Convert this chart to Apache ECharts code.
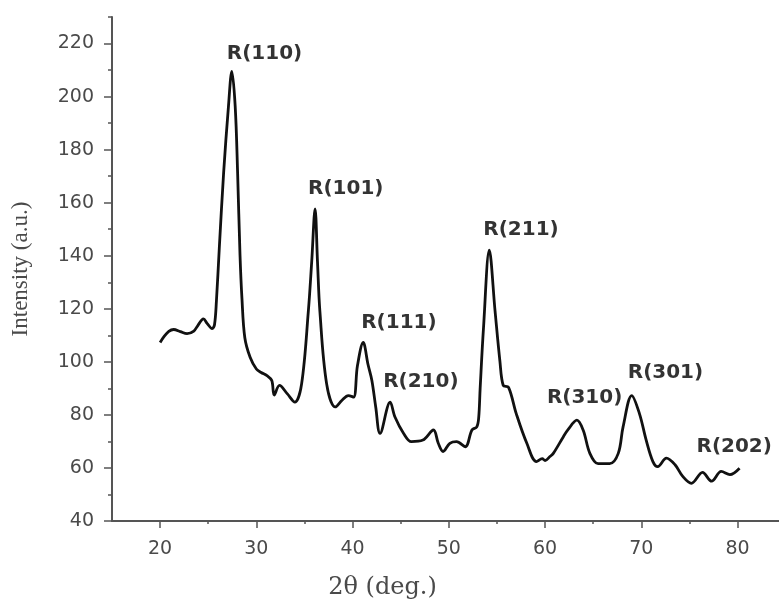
<!DOCTYPE html>
<html>
<head>
<meta charset="utf-8">
<script src="https://cdn.jsdelivr.net/npm/echarts@6/dist/echarts.min.js"></script>
<style>
html,body{margin:0;padding:0;background:#fff;}
#chart{width:779px;height:605px;}
</style>
</head>
<body>
<div id="chart"></div>
<script>
// ---- data ----
var twoTheta = [20.0, 20.4, 20.9, 21.4, 22.1, 22.8, 23.5, 23.9, 24.5, 24.9, 25.4, 25.65, 25.85, 26.15, 26.6, 27.1, 27.45, 27.8, 28.05, 28.3, 28.5, 28.8, 29.35, 30.0, 30.5, 31.1, 31.6, 31.85, 32.4, 33.2, 34.0, 34.7, 35.4, 35.75, 36.1, 36.35, 36.6, 37.3, 38.2, 38.9, 39.55, 40.1, 40.5, 41.1, 41.6, 42.0, 42.4, 42.85, 43.9, 44.4, 45.3, 46.1, 47.3, 48.4, 48.9, 49.4, 50.1, 50.8, 51.7, 52.4, 52.9, 53.1, 53.25, 53.6, 54.2, 54.8, 55.3, 55.65, 56.2, 57.0, 58.1, 59.1, 59.7, 60.0, 60.5, 60.85, 61.9, 62.4, 63.3, 63.95, 64.65, 65.5, 66.7, 67.6, 68.1, 69.0, 69.8, 70.5, 71.2, 71.7, 72.6, 73.5, 74.3, 75.2, 76.35, 77.3, 78.3, 79.2, 80.2];
var intensity = [107.3, 109.5, 111.5, 112.2, 111.4, 110.6, 111.6, 113.6, 116.2, 114.4, 112.5, 114, 123, 143, 171.4, 196.3, 209.5, 196.3, 171.4, 140.3, 124, 109.1, 101.7, 97.3, 96, 94.8, 93, 87.5, 91.1, 88, 84.8, 91.7, 119.1, 137.8, 157.7, 137.8, 119, 91.7, 83, 85.5, 87.3, 86.7, 98.5, 107.3, 99, 93, 83, 73, 84.8, 79.2, 73, 69.9, 70.5, 74.3, 69.3, 66.2, 69.3, 69.9, 68, 74.3, 75.5, 79, 90, 112.9, 142.1, 119.1, 100.4, 91.1, 90.4, 80.5, 69.3, 62.4, 63.5, 62.8, 64.3, 65.5, 71.8, 74.5, 78, 74.3, 65.5, 61.6, 61.6, 65.5, 75.5, 87.3, 80.5, 70.5, 62.4, 60.5, 63.7, 61.2, 56.8, 54.2, 58.3, 55, 58.7, 57.5, 59.9];

var peakLabels = ['R(110)', 'R(101)', 'R(111)', 'R(210)', 'R(211)', 'R(310)', 'R(301)', 'R(202)'];
var peakTheta = [27.45, 36.1, 41.1, 43.9, 54.2, 63.3, 69.0, 76.35];
var peakIntensity = [209.5, 157.7, 107.3, 84.8, 142.1, 78, 87.3, 58.3];

var xTickLabels = [20, 30, 40, 50, 60, 70, 80];
var xMinorTicks = [25, 35, 45, 55, 65, 75];
var yTickLabels = [40, 60, 80, 100, 120, 140, 160, 180, 200, 220];
var yMinorTicks = [50, 70, 90, 110, 130, 150, 170, 190, 210, 230];

var xTitle = '2θ (deg.)';
var yTitle = 'Intensity (a.u.)';

// ---- build option ----
var labelOffsets = [[-5, -18], [-7, -20], [-2, -20], [-7, -20], [-6, -20], [-30, -22], [-4, -23], [-6, -26]];

var lineData = twoTheta.map(function (t, i) { return [t, intensity[i]]; });
var labelData = peakLabels.map(function (name, i) {
  return {
    name: name,
    value: [peakTheta[i], peakIntensity[i]],
    label: { offset: labelOffsets[i] }
  };
});

var axisColor = '#555';
var textColor = '#4a4a4a';
var xMin = 15, xMax = 84.3;

var chart = echarts.init(document.getElementById('chart'), null, { renderer: 'canvas' });
chart.setOption({
  animation: false,
  backgroundColor: '#fff',
  grid: { left: 112, right: 0, top: 17, bottom: 80, containLabel: false },
  xAxis: [{
    type: 'value', min: xMin, max: xMax,
    name: xTitle, nameLocation: 'middle', nameGap: 55,
    nameTextStyle: { fontFamily: 'DejaVu Serif', fontSize: 24, color: textColor, padding: [0, 126, 0, 0] },
    axisLine: { show: true, lineStyle: { color: axisColor, width: 2 } },
    axisTick: { show: true, customValues: xTickLabels, length: 7, lineStyle: { color: axisColor, width: 1.5 } },
    axisLabel: { customValues: xTickLabels, margin: 19, fontFamily: 'DejaVu Sans', fontSize: 19, color: textColor },
    splitLine: { show: false }
  }, {
    type: 'value', min: xMin, max: xMax, position: 'bottom',
    axisLine: { show: false },
    axisTick: { show: true, customValues: xMinorTicks, length: 3, lineStyle: { color: axisColor, width: 1.5 } },
    axisLabel: { show: false },
    splitLine: { show: false }
  }],
  yAxis: [{
    type: 'value', min: 40, max: 230,
    name: yTitle, nameLocation: 'middle', nameGap: 80, nameRotate: 90,
    nameTextStyle: { fontFamily: 'Liberation Serif', fontSize: 23, color: textColor },
    axisLine: { show: true, lineStyle: { color: axisColor, width: 2 } },
    axisTick: { show: true, customValues: yTickLabels, length: 8, lineStyle: { color: axisColor, width: 1.5 } },
    axisLabel: { customValues: yTickLabels, margin: 18, fontFamily: 'DejaVu Sans', fontSize: 19, color: textColor },
    splitLine: { show: false }
  }, {
    type: 'value', min: 40, max: 230, position: 'left',
    axisLine: { show: false },
    axisTick: { show: true, customValues: yMinorTicks, length: 4, lineStyle: { color: axisColor, width: 1.5 } },
    axisLabel: { show: false },
    splitLine: { show: false }
  }],
  series: [{
    type: 'line',
    data: lineData,
    xAxisIndex: 0, yAxisIndex: 0,
    smooth: 0.35,
    showSymbol: false,
    lineStyle: { color: '#111', width: 2.8 },
    z: 3
  }, {
    type: 'scatter',
    data: labelData,
    xAxisIndex: 0, yAxisIndex: 0,
    symbolSize: 0,
    label: {
      show: true, position: 'inside', align: 'left', verticalAlign: 'middle',
      formatter: '{b}', fontFamily: 'DejaVu Sans', fontWeight: 'bold', fontSize: 20, color: '#000'
    },
    z: 4
  }]
});
</script>
</body>
</html>
